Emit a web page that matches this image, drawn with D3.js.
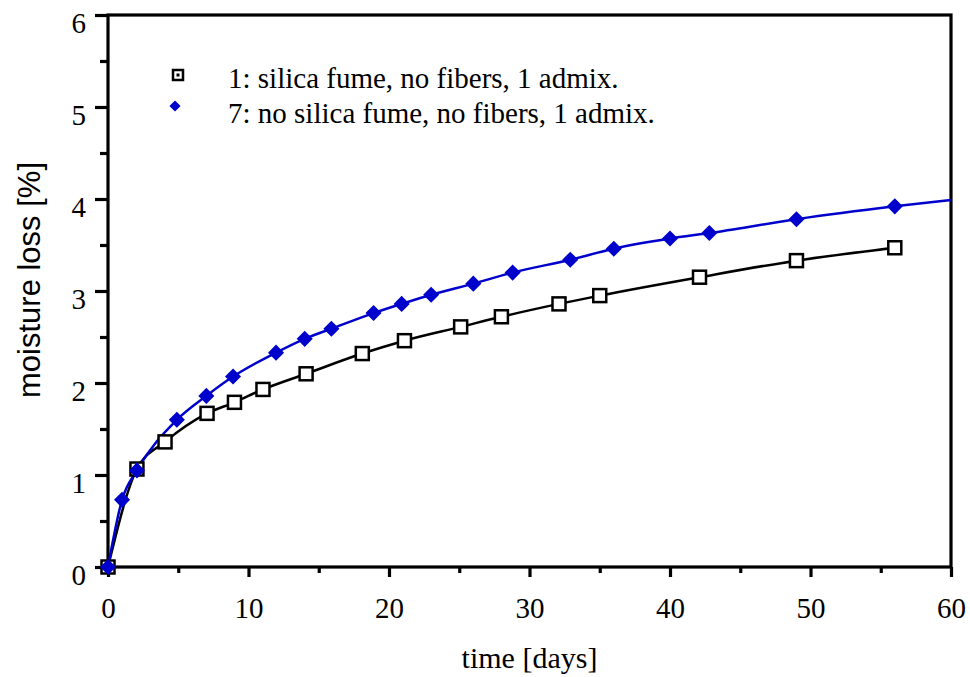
<!DOCTYPE html>
<html>
<head>
<meta charset="utf-8">
<script src="https://cdn.jsdelivr.net/npm/d3@7"></script>
<style>
  body { margin: 0; background: #fff; }
  svg { display: block; }
</style>
</head>
<body>
<script>
// time [days] and moisture loss [%]
var daysMix1 = [0, 2.06, 4.06, 7.05, 9, 11.03, 14.1, 18.1, 21.1, 25.1, 28, 32.1, 35, 42.1, 49, 56];
var lossMix1 = [0, 1.065, 1.36, 1.67, 1.79, 1.93, 2.10, 2.32, 2.46, 2.61, 2.72, 2.86, 2.95, 3.15, 3.33, 3.47];

var daysMix7 = [0, 1, 2.06, 4.9, 7, 8.9, 11.96, 14, 15.9, 18.9, 20.9, 23, 26, 28.8, 32.9, 36, 40, 42.8, 49, 56];
var lossMix7 = [0, 0.73, 1.05, 1.60, 1.86, 2.07, 2.33, 2.48, 2.59, 2.76, 2.86, 2.96, 3.08, 3.20, 3.34, 3.46, 3.57, 3.63, 3.78, 3.92];
// the blue curve runs on past its last marker to the frame
var tailMix7 = [[60, 3.99]];

var legendLabels = ["1: silica fume, no fibers, 1 admix.", "7: no silica fume, no fibers, 1 admix."];
var xTicks = [0, 10, 20, 30, 40, 50, 60];
var yTicks = [0, 1, 2, 3, 4, 5, 6];

var width = 970, height = 677;
// plot box (window.top is read-only, so no bare "top" here)
var plotL = 108, plotR = 951, plotT = 15, plotB = 567;
var blue = "#0000cc";

var svg = d3.select("body").append("svg")
    .attr("width", width)
    .attr("height", height);

var x = d3.scaleLinear().domain([0, 60]).range([plotL, plotR]);
var y = d3.scaleLinear().domain([0, 6]).range([plotB, plotT]);

var serif = "'Liberation Serif', 'Times New Roman', serif";

// minor ticks first
svg.append("g")
    .attr("transform", "translate(" + plotL + ",0)")
    .call(d3.axisLeft(y).tickValues(d3.range(0.5, 6, 1)).tickSize(8).tickFormat(""))
    .call(function(g){ g.select(".domain").remove(); });
svg.append("g")
    .attr("transform", "translate(0," + plotB + ")")
    .call(d3.axisBottom(x).tickValues(d3.range(5, 60, 10)).tickSize(6).tickFormat(""))
    .call(function(g){ g.select(".domain").remove(); });

var yAxis = svg.append("g")
    .attr("transform", "translate(" + plotL + ",0)")
    .call(d3.axisLeft(y).tickValues(yTicks).tickSize(13).tickPadding(9).tickFormat(d3.format("d")));
yAxis.select(".domain").remove();
yAxis.selectAll("text").attr("dy", "0.6em");

var xAxis = svg.append("g")
    .attr("transform", "translate(0," + plotB + ")")
    .call(d3.axisBottom(x).tickValues(xTicks).tickSize(10).tickPadding(20).tickFormat(d3.format("d")));
xAxis.select(".domain").remove();

svg.selectAll(".tick line").attr("stroke", "#000").attr("stroke-width", 3.2);
svg.selectAll(".tick text")
    .attr("fill", "#000")
    .style("font-family", serif)
    .style("font-size", "29px");

// frame
svg.append("rect")
    .attr("x", plotL).attr("y", plotT)
    .attr("width", plotR - plotL).attr("height", plotB - plotT)
    .attr("fill", "none")
    .attr("stroke", "#000")
    .attr("stroke-width", 3.2);

var pts1 = daysMix1.map(function(d, i){ return [d, lossMix1[i]]; });
var pts7 = daysMix7.map(function(d, i){ return [d, lossMix7[i]]; });

var line = d3.line()
    .x(function(d){ return x(d[0]); })
    .y(function(d){ return y(d[1]); })
    .curve(d3.curveMonotoneX);

svg.append("path")
    .datum(pts1)
    .attr("d", line)
    .attr("fill", "none")
    .attr("stroke", "#000")
    .attr("stroke-width", 2.5);

svg.append("path")
    .datum(pts7.concat(tailMix7))
    .attr("d", line)
    .attr("fill", "none")
    .attr("stroke", blue)
    .attr("stroke-width", 2.5);

// markers
var sq = 13;
svg.selectAll(".m1").data(pts1).enter().append("rect")
    .attr("x", function(d){ return x(d[0]) - sq / 2; })
    .attr("y", function(d){ return y(d[1]) - sq / 2; })
    .attr("width", sq).attr("height", sq)
    .attr("fill", "#fff")
    .attr("stroke", "#000")
    .attr("stroke-width", 2.5);

var diamond = d3.symbol().type(d3.symbolDiamond2).size(165);
svg.selectAll(".m7").data(pts7).enter().append("path")
    .attr("transform", function(d){ return "translate(" + x(d[0]) + "," + y(d[1]) + ")"; })
    .attr("d", diamond)
    .attr("fill", blue);

// legend
svg.append("rect")
    .attr("x", 173).attr("y", 70).attr("width", 10).attr("height", 10)
    .attr("fill", "#fff").attr("stroke", "#000").attr("stroke-width", 2.5);
svg.append("rect")
    .attr("x", 176.5).attr("y", 73.5).attr("width", 3).attr("height", 3)
    .attr("fill", "#000");
svg.append("path")
    .attr("transform", "translate(175,106)")
    .attr("d", d3.symbol().type(d3.symbolDiamond2).size(80))
    .attr("fill", blue);

svg.selectAll(".legend").data(legendLabels).enter().append("text")
    .attr("x", 228)
    .attr("y", function(d, i){ return 88 + i * 35; })
    .style("font-family", serif)
    .style("font-size", "29px")
    .text(function(d){ return d; });

// axis titles
svg.append("text")
    .attr("x", (plotL + plotR) / 2)
    .attr("y", 668)
    .attr("text-anchor", "middle")
    .style("font-family", serif)
    .style("font-size", "30px")
    .text("time [days]");

svg.append("text")
    .attr("transform", "translate(40,280) rotate(-90)")
    .attr("text-anchor", "middle")
    .style("font-family", "'Liberation Sans', Arial, sans-serif")
    .style("font-size", "31px")
    .text("moisture loss [%]");
</script>
</body>
</html>
